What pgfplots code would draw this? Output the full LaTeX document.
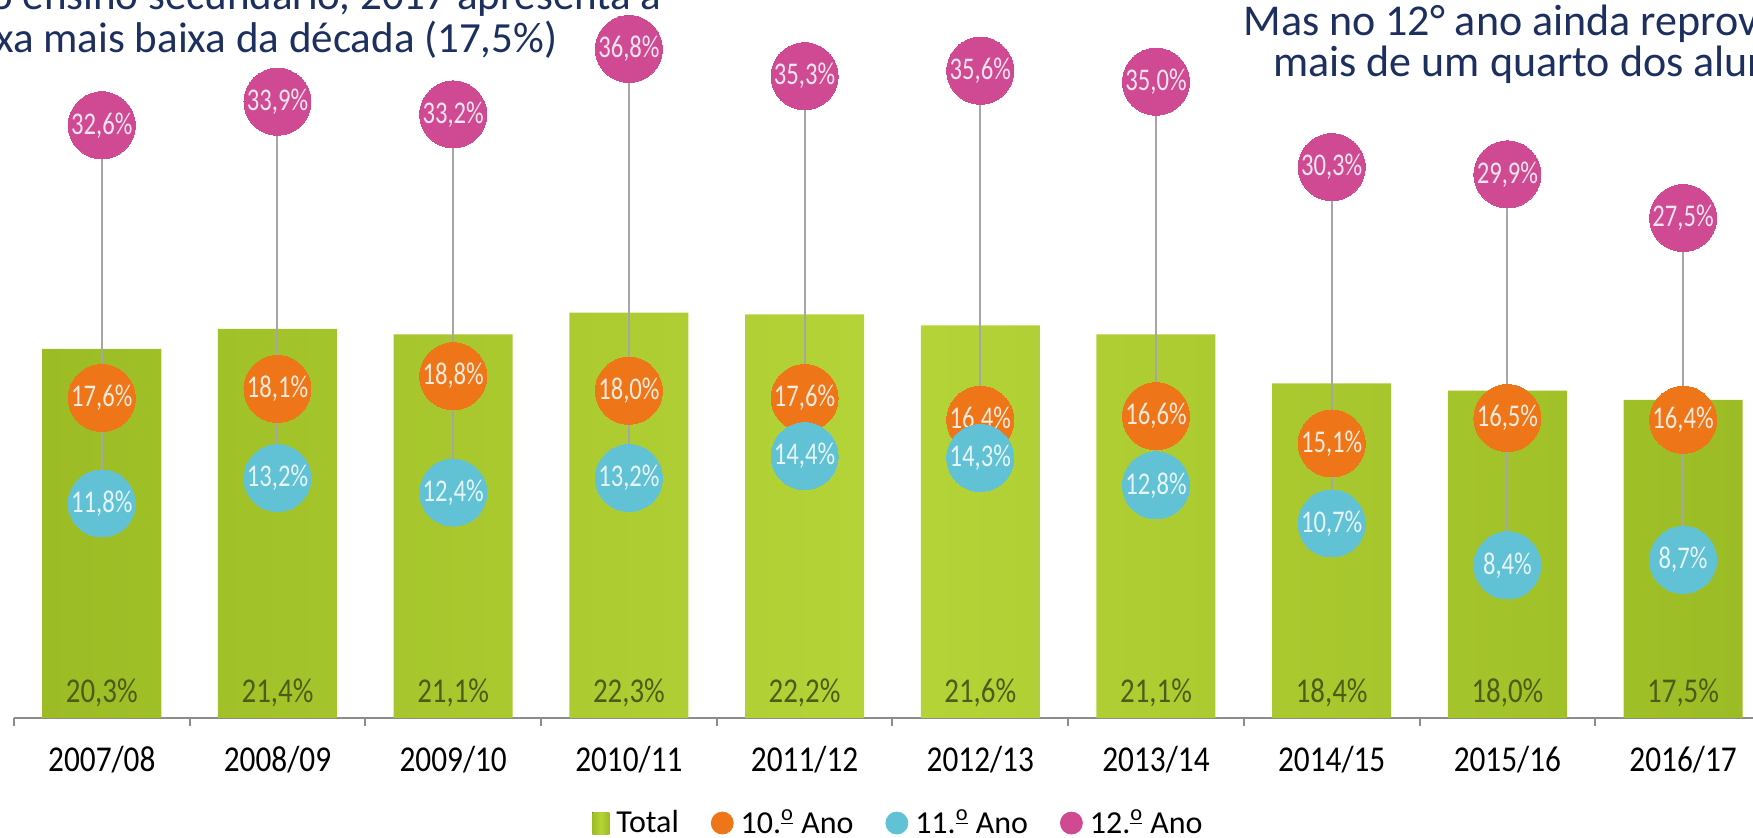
\documentclass[border=0pt]{standalone}
\usepackage{pgfplots}
\pgfplotsset{compat=1.18}
\usepackage{pgfplotstable}
\usepackage{graphicx}
\usepackage{fontspec}
\setmainfont{Carlito}

\definecolor{gDark}{HTML}{9CBC25}
\definecolor{gLight}{HTML}{B5D438}
\definecolor{cOrange}{HTML}{EE7518}
\definecolor{cCyan}{HTML}{60C2D4}
\definecolor{cPink}{HTML}{CF4A93}
\definecolor{navy}{HTML}{1C2F5E}
\definecolor{lineGray}{HTML}{A6A6A6}
\definecolor{axGray}{HTML}{8C8C8C}
\definecolor{barLab}{HTML}{4D5C17}

\pgfplotstableread{
x tot a10 a11 a12
0 20.3 17.6 11.8 32.6
1 21.4 18.1 13.2 33.9
2 21.1 18.8 12.4 33.2
3 22.3 18.0 13.2 36.8
4 22.2 17.6 14.4 35.3
5 21.6 16.4 14.3 35.6
6 21.1 16.6 12.8 35.0
7 18.4 15.1 10.7 30.3
8 18.0 16.5 8.4 29.9
9 17.5 16.4 8.7 27.5
}\datatable

\newcommand{\pct}[1]{\pgfmathprintnumber[fixed,fixed zerofill,precision=1,use comma,assume math mode=true]{#1}\%}
\newcommand{\circlab}[1]{\scalebox{0.78}[1]{\fontsize{15.8}{16}\selectfont #1}}
\newcommand{\barlab}[1]{\scalebox{0.83}[1]{\fontsize{17.4}{18}\selectfont #1}}
\newcommand{\tl}[1]{\scalebox{0.86}[1]{#1}}
\newcommand{\ordm}{\textsuperscript{\underline{o}}}

\begin{document}
\begin{tikzpicture}
\useasboundingbox (-50.9pt,-60pt) rectangle (825.6pt,359pt);
\clip (-50.9pt,-60pt) rectangle (825.6pt,359pt);
\begin{axis}[
  anchor=south west, at={(-43.925pt,0pt)},
  scale only axis, x=87.85pt, y=9.09pt,
  xmin=-0.5, xmax=9.5, ymin=0, ymax=39.5,
  clip=false,
  axis y line=none, axis x line*=bottom,
  x axis line style={draw=axGray, line width=1pt},
  xtick={0,...,9},
  xticklabels={\tl{2007/08},\tl{2008/09},\tl{2009/10},\tl{2010/11},\tl{2011/12},\tl{2012/13},\tl{2013/14},\tl{2014/15},\tl{2015/16},\tl{2016/17}},
  major tick length=0pt,
  minor xtick={-0.5,0.5,...,9.5},
  minor tick length=4pt,
  tick align=outside,
  minor tick style={draw=axGray, line width=1pt},
  xticklabel style={font=\fontsize{18.2}{19}\selectfont, anchor=base, yshift=-27pt, inner sep=0pt, text=black},
  legend columns=-1,
  legend cell align=left,
  legend style={draw=none, fill=none, at={(0.5037,-0.1463)}, anchor=center, inner sep=0pt,
    font=\fontsize{16}{17}\selectfont,
    nodes={inner sep=1.5pt},
    /tikz/every odd column/.append style={column sep=2pt},
    /tikz/every even column/.append style={column sep=14.5pt}},
]
% bars
\addplot[ybar, bar width=59.5pt, bar shift=0pt, draw=none,
  left color=gDark, right color=gDark, middle color=gLight,
  legend image code/.code={\fill[left color=gDark, right color=gDark, middle color=gLight] (0pt,-5.5pt) rectangle (8.5pt,5.5pt);}]
  table[x=x, y=tot] {\datatable};
\addlegendentry{Total}
% connecting lines
\addplot[only marks, mark=none, forget plot,
  error bars/.cd, y dir=minus, y explicit, error mark=none,
  error bar style={draw=lineGray, line width=1pt, solid}]
  table[x=x, y=a12, y error minus expr={\thisrow{a12}-min(\thisrow{a10},\thisrow{a11})}] {\datatable};
% 10
\addplot[color=cOrange, only marks, mark=*, mark size=16.75pt, mark options={draw=cOrange, fill=cOrange, line width=0pt},
  point meta=y,
  nodes near coords={\circlab{\pct{\pgfplotspointmeta}}},
  every node near coord/.append style={anchor=center, inner sep=0pt, text=white, text opacity=0.85},
  legend image code/.code={\fill[cOrange] (5.5pt,0pt) circle (5.5pt);}]
  table[x=x, y=a10] {\datatable};
\addlegendentry{10.\ordm{} Ano}
% 11
\addplot[color=cCyan, only marks, mark=*, mark size=16.75pt, mark options={draw=cCyan, fill=cCyan, line width=0pt},
  point meta=y,
  nodes near coords={\circlab{\pct{\pgfplotspointmeta}}},
  every node near coord/.append style={anchor=center, inner sep=0pt, text=white, text opacity=0.85},
  legend image code/.code={\fill[cCyan] (5.5pt,0pt) circle (5.5pt);}]
  table[x=x, y=a11] {\datatable};
\addlegendentry{11.\ordm{} Ano}
% 12
\addplot[color=cPink, only marks, mark=*, mark size=16.75pt, mark options={draw=cPink, fill=cPink, line width=0pt},
  point meta=y,
  nodes near coords={\circlab{\pct{\pgfplotspointmeta}}},
  every node near coord/.append style={anchor=center, inner sep=0pt, text=white, text opacity=0.85},
  legend image code/.code={\fill[cPink] (5.5pt,0pt) circle (5.5pt);}]
  table[x=x, y=a12] {\datatable};
\addlegendentry{12.\ordm{} Ano}
% total labels
\addplot[only marks, mark=none, forget plot,
  point meta=\thisrow{tot},
  nodes near coords={\barlab{\pct{\pgfplotspointmeta}}},
  every node near coord/.append style={anchor=center, inner sep=0pt, text=barLab}]
  table[x=x, y expr=1.375] {\datatable};
\end{axis}
% titles
\node[anchor=base east, inner sep=0pt, text=navy, font=\fontsize{21.5}{22}\selectfont] at (280pt,354pt) {No ensino secundário, 2017 apresenta a};
\node[anchor=base east, inner sep=0pt, text=navy, font=\fontsize{21.5}{22}\selectfont] at (228pt,332.5pt) {taxa mais baixa da década (17,5\%)};
\node[anchor=base west, inner sep=0pt, text=navy, font=\fontsize{22}{23}\selectfont] at (570.6pt,341pt) {Mas no 12° ano ainda reprovam};
\node[anchor=base west, inner sep=0pt, text=navy, font=\fontsize{22}{23}\selectfont] at (585.6pt,320.5pt) {mais de um quarto dos alunos};
\end{tikzpicture}
\end{document}
